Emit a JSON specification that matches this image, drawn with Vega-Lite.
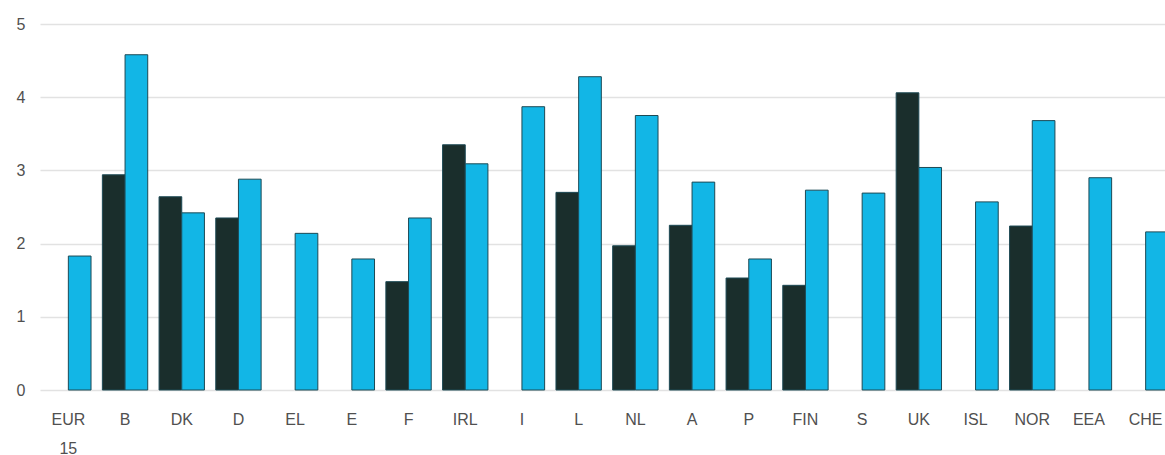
{
  "$schema": "https://vega.github.io/schema/vega-lite/v6.json",
  "autosize": {"type": "none"},
  "padding": {"left": 40, "top": 24, "right": 0, "bottom": 65},
  "width": 1125,
  "height": 366,
  "background": "white",
  "config": {"view": {"stroke": null}},
  "data": {"values": [
    {"country": "EUR 15", "series": "b", "value": 1.83},
    {"country": "B", "series": "a", "value": 2.94},
    {"country": "B", "series": "b", "value": 4.58},
    {"country": "DK", "series": "a", "value": 2.64},
    {"country": "DK", "series": "b", "value": 2.42},
    {"country": "D", "series": "a", "value": 2.35},
    {"country": "D", "series": "b", "value": 2.88},
    {"country": "EL", "series": "b", "value": 2.14},
    {"country": "E", "series": "b", "value": 1.79},
    {"country": "F", "series": "a", "value": 1.48},
    {"country": "F", "series": "b", "value": 2.35},
    {"country": "IRL", "series": "a", "value": 3.35},
    {"country": "IRL", "series": "b", "value": 3.09},
    {"country": "I", "series": "b", "value": 3.87},
    {"country": "L", "series": "a", "value": 2.70},
    {"country": "L", "series": "b", "value": 4.28},
    {"country": "NL", "series": "a", "value": 1.97},
    {"country": "NL", "series": "b", "value": 3.75},
    {"country": "A", "series": "a", "value": 2.25},
    {"country": "A", "series": "b", "value": 2.84},
    {"country": "P", "series": "a", "value": 1.53},
    {"country": "P", "series": "b", "value": 1.79},
    {"country": "FIN", "series": "a", "value": 1.43},
    {"country": "FIN", "series": "b", "value": 2.73},
    {"country": "S", "series": "b", "value": 2.69},
    {"country": "UK", "series": "a", "value": 4.06},
    {"country": "UK", "series": "b", "value": 3.04},
    {"country": "ISL", "series": "b", "value": 2.57},
    {"country": "NOR", "series": "a", "value": 2.24},
    {"country": "NOR", "series": "b", "value": 3.68},
    {"country": "EEA", "series": "b", "value": 2.90},
    {"country": "CHE", "series": "b", "value": 2.16}
  ]},
  "mark": {"type": "bar", "stroke": "#1d4a55", "strokeWidth": 1},
  "encoding": {
    "x": {
      "field": "country",
      "type": "nominal",
      "sort": null,
      "scale": {"paddingInner": 0.2, "paddingOuter": 0.1, "range": [0, 1134]},
      "axis": {
        "title": null,
        "labelAngle": 0,
        "ticks": false,
        "domain": false,
        "labelPadding": 21,
        "labelFontSize": 16,
        "labelFont": "Liberation Sans",
        "labelColor": "#505050",
        "labelLineHeight": 29,
        "labelExpr": "datum.value == 'EUR 15' ? ['EUR', '15'] : datum.value"
      }
    },
    "xOffset": {"field": "series", "type": "nominal", "scale": {"domain": ["a", "b"]}},
    "y": {
      "field": "value",
      "type": "quantitative",
      "scale": {"domain": [0, 5], "nice": false},
      "axis": {
        "title": null,
        "values": [0, 1, 2, 3, 4, 5],
        "ticks": false,
        "domain": false,
        "labelPadding": 15,
        "labelFontSize": 16,
        "labelFont": "Liberation Sans",
        "labelColor": "#505050",
        "gridColor": "#e2e2e2",
        "gridWidth": 1.5
      }
    },
    "color": {
      "field": "series",
      "type": "nominal",
      "scale": {"domain": ["a", "b"], "range": ["#1a2e2c", "#12b6e6"]},
      "legend": null
    }
  }
}
